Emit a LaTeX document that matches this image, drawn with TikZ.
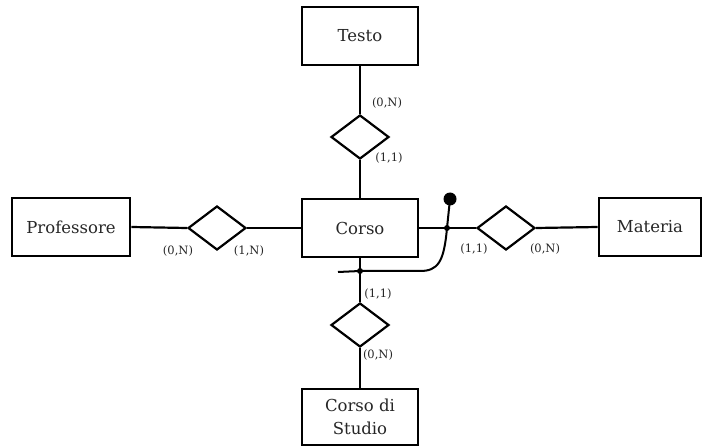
\documentclass[tikz,border=0pt]{standalone}
\usepackage{fontspec}
\setmainfont{DejaVu Serif}
\usetikzlibrary{shapes.geometric}
\begin{document}
\begin{tikzpicture}[x=1pt,y=-1pt,
  entity/.style={draw,line width=2.8pt,minimum width=116pt,minimum height=58pt,inner sep=2pt,font=\fontsize{16.5}{23}\selectfont,align=center,text=black!85},
  rel/.style={draw,diamond,line width=2.2pt,minimum width=58pt,minimum height=44pt,inner sep=0pt},
  conn/.style={line width=2.2pt},
  card/.style={font=\fontsize{11.5}{13}\selectfont,text=black!85,inner sep=0pt},
  smalldot/.style={circle,fill=black,inner sep=0pt,minimum size=6pt}]
\useasboundingbox (0,0) rectangle (709,446);
\node[entity] (testo) at (360,36) {Testo};
\node[entity] (corso) at (360,228) {Corso};
\node[entity,minimum width=118pt] (prof) at (71,227) {Professore};
\node[entity,minimum width=102pt] (materia) at (650,227) {Materia};
\node[entity,minimum height=56pt] (cds) at (360,417) {Corso di\\Studio};
\node[rel] (rtop) at (360,137) {};
\node[rel] (rleft) at (217,228) {};
\node[rel] (rright) at (506,228) {};
\node[rel] (rbot) at (360,325) {};
\draw[conn] (testo.south) -- (rtop.north);
\draw[conn] (rtop.south) -- (corso.north);
\draw[conn] (prof.east) -- (rleft.west);
\draw[conn] (rleft.east) -- (corso.west);
\draw[conn] (corso.east) -- (rright.west);
\draw[conn] (rright.east) -- (materia.west);
\draw[conn] (corso.south) -- (rbot.north);
\draw[conn] (rbot.south) -- (cds.north);
\node[card] (c1) at (387,103) {(0,N)};
\node[card] (c2) at (389,158) {(1,1)};
\node[card] (c3) at (178,251) {(0,N)};
\node[card] (c4) at (249,251) {(1,N)};
\node[card] (c5) at (474,249) {(1,1)};
\node[card] (c6) at (545,249) {(0,N)};
\node[card] (c7) at (378,294) {(1,1)};
\node[card] (c8) at (378,355) {(0,N)};
% identifier
\node[circle,fill=black,inner sep=0pt,minimum size=13pt] (iddot) at (450,199) {};
\node[smalldot] (idr) at (447,228) {};
\node[smalldot] (idb) at (360,271) {};
\coordinate (idend) at (338,272);
\draw[line width=2pt] (iddot.center) -- (idr.center) .. controls (444,262) and (438,271) .. (420,271) -- (idb.center) -- (idend);
\end{tikzpicture}
\end{document}
